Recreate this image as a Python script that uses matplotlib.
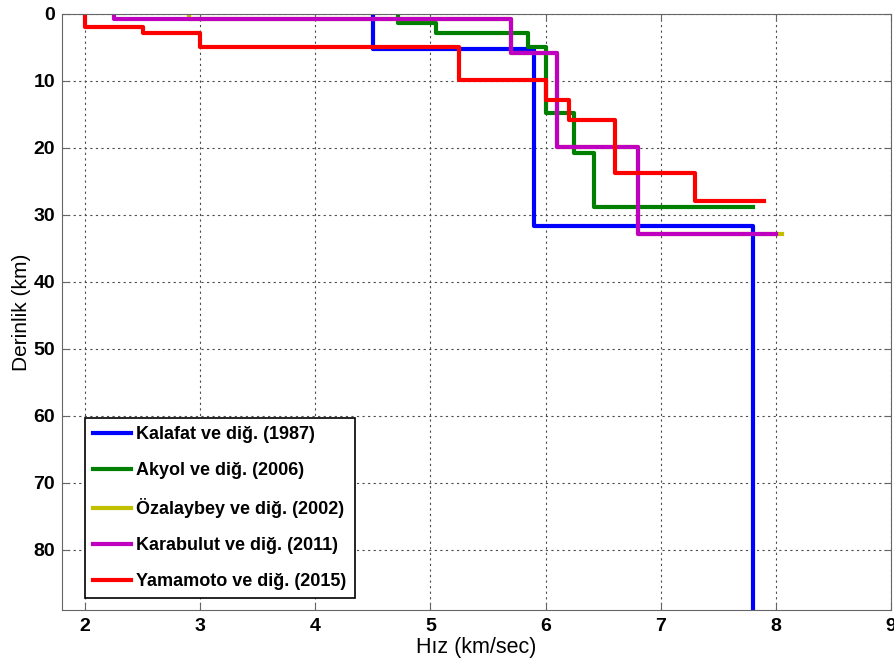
import numpy as np
import matplotlib
matplotlib.use("Agg")
import matplotlib.pyplot as plt

plt.rcParams['font.family'] = ['Liberation Sans', 'DejaVu Sans']

# velocity models: v[i] holds from depth z[i] to z[i+1] ========================
kalafat_v = [4.5, 5.9, 7.8, 7.8]
kalafat_z = [0, 5.2, 31.6, 100]

akyol_v = [4.72, 5.05, 5.85, 6.0, 6.25, 6.42, 7.8]
akyol_z = [0, 1.3, 2.8, 4.9, 14.8, 20.8, 28.8]

ozalaybey_v = [2.9, 5.7, 6.1, 6.8, 8.05]
ozalaybey_z = [0, 0.8, 5.8, 19.9, 32.9]

karabulut_v = [2.25, 5.7, 6.1, 6.8, 8.0]
karabulut_z = [0, 0.8, 5.8, 19.9, 32.9]

yamamoto_v = [2.0, 2.5, 3.0, 5.25, 6.0, 6.2, 6.6, 7.3, 7.9]
yamamoto_z = [0, 1.9, 2.8, 4.9, 9.9, 12.9, 15.9, 23.8, 27.95]

labels = ['Kalafat ve diğ. (1987)', 'Akyol ve diğ. (2006)',
          'Özalaybey ve diğ. (2002)', 'Karabulut ve diğ. (2011)',
          'Yamamoto ve diğ. (2015)']
colors = ['#0000ff', '#008000', '#c0c000', '#c000c0', '#ff0000']

models = [(kalafat_v, kalafat_z), (akyol_v, akyol_z),
          (ozalaybey_v, ozalaybey_z), (karabulut_v, karabulut_z),
          (yamamoto_v, yamamoto_z)]

# plot ========================================================================
fig = plt.figure(figsize=(8.95, 6.63), dpi=100)
ax = fig.add_axes([0.0693, 0.0799, 0.9262, 0.899])

for (v, z), lab, col in zip(models, labels, colors):
    ax.step(v, z, where='pre', color=col, lw=3, label=lab)

ax.set_xlim(1.8, 9)
ax.set_ylim(89, 0)
ax.set_xticks(range(2, 10))
ax.set_yticks(range(0, 90, 10))
ax.grid(True, color='0.3', linestyle=(0, (2, 3)), linewidth=0.8)
ax.tick_params(direction='in', top=True, right=True, length=5,
               color='0.4', labelsize=14)
ax.tick_params(axis='x', pad=6)
ax.tick_params(axis='y', pad=5)
for t in ax.get_xticklabels() + ax.get_yticklabels():
    t.set_fontweight('bold')
for s in ax.spines.values():
    s.set_color('0.4')

ax.set_xlabel('Hız (km/sec)', fontsize=15.5, labelpad=1)
ax.set_ylabel('Derinlik (km)', fontsize=15, labelpad=2)

leg = ax.legend(loc='lower left', bbox_to_anchor=(0.0277, 0.02),
                borderaxespad=0,
                prop={'weight': 'bold', 'size': 13}, frameon=True,
                fancybox=False, framealpha=1, edgecolor='black',
                handlelength=2.1, handletextpad=0.3, labelspacing=1.05,
                borderpad=0.45)
leg.get_frame().set_linewidth(1.2)

fig.savefig('out.png', dpi=100)
